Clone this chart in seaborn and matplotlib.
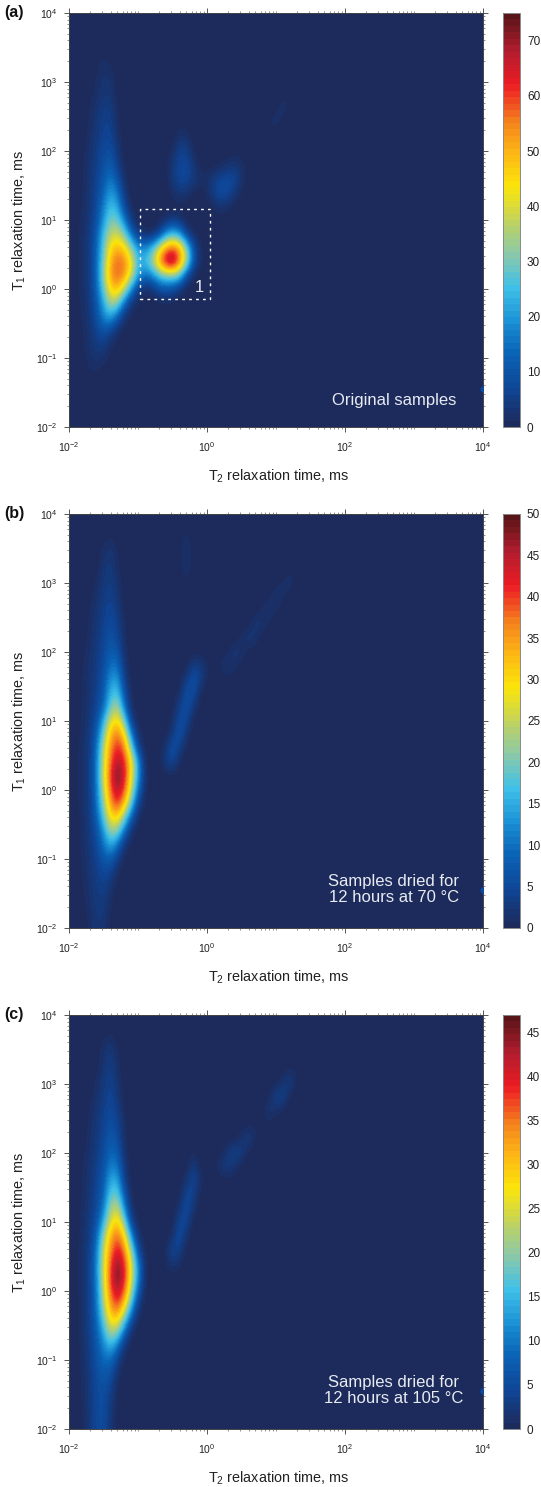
import numpy as np
import matplotlib
matplotlib.use("Agg")
import matplotlib.pyplot as plt
from matplotlib.colors import ListedColormap
from matplotlib.ticker import FixedLocator, NullFormatter
from matplotlib.patches import Rectangle
import seaborn as sns

sns.set_theme(style="ticks")
plt.rcParams.update({
    "font.family": ["Liberation Sans", "DejaVu Sans"],
    "mathtext.default": "regular",
    "axes.linewidth": 0.7,
    "axes.edgecolor": "#444444",
})

# log10 of the first/last grid node, 0.1 decade in T2 and 0.2 decade in T1
T2_FIRST, T2_LAST, T2_STEP = -2.0, 1.6, 0.1
T1_FIRST, T1_LAST, T1_STEP = 4.0, -2.0, 0.2

AMP_A = [
    [],
    [],
    [],
    [0,0,0,0,.3,1,.5]+[0]*8+[.5,1],
    [0,0,0,0,.8,2,1.5]+[0]*8+[.5,1.5],
    [0,0,0,0,1.5,3,3,.3]+[0]*8+[.3]+[0]*15+[.5],
    [0,0,0,.5,2,3.5,3.5,.5]+[0]*8+[.3]+[0]*14+[.5,2],
    [0,0,0,1,3,5,5,1]+[0]*22+[1,2.5],
    [0,0,0,1.5,3.5,6,6,1.5]+[0]*8+[.5]+[0]*12+[1.5,2],
    [0,0,0,2,4,6.5,7,2.5]+[0]*8+[2.5,2.5]+[0]*10+[1.5],
    [0,0,.5,2.5,5,8,9,4]+[0]*7+[1.5,6,6,1],
    [0,0,.8,3,5.5,9,12,6,.5]+[0]*6+[4,7,7.5,4,.3]+[0]*2+[.5,2,3.5,2],
    [0,0,1,3,6,11,16,10,2]+[0]*6+[4,7.5,7.5,5,2,2,5,7,8.5,7.5,3],
    [0,0,1,3.5,7,13,21,16,4]+[0]*6+[1.5,4,3,.5,0,1.5,6,9,8,4,.5],
    [0,0,1.2,3.5,8,17,25,22,8,1]+[0]*11+[1,3,1.5],
    [0,.3,1.5,4,9,20,30,29,17,4,.5,0,0,0,2,4,3],
    [0,.5,2,4.5,12,25,36,39,30,15,4,1,1,5,18,24,20,6,.8],
    [0,.5,2,5,13,28,45,50,46,32,20,18,24,38,52,58,52,32,10,1.5],
    [0,.5,2,5,14,30,50,58,55,45,24,25,34,52,70,75,58,38,12,1.5],
    [0,.5,2,5,14,33,52,58,54,40,22,15,18,26,30,32,28,9,1],
    [0,.5,2,4.5,13,28,46,50,38,20,5,1,2,8,10,8,3],
    [0,.3,1.5,4,11,22,35,32,15,3,.5],
    [0,0,1.5,3.5,9,18,22,13,3,.5],
    [0,0,1,3,6.5,10,7,2,.2],
    [0,0,.8,2.5,5,5,2,.2],
    [0,0,.5,2,3,2,.3],
    [0,0,0,1,1,.3],
    [0,0,0,.2],
    [],
    [],
    [],
]
AMP_B = [
    [],
    [0]*17+[.8],
    [0,0,0,0,0,.5,1.2,.3]+[0]*9+[1.5],
    [0,0,0,0,0,1.5,2.5,.8]+[0]*9+[2.5],
    [0,0,0,0,.3,2,3,1]+[0]*9+[1.8]+[0]*15+[1.2],
    [0,0,0,0,1,2.5,3.5,1.8]+[0]*9+[.3]+[0]*13+[1.2,1.8],
    [0,0,0,.3,1.5,3,4,2.2,.2]+[0]*21+[2.5,.8],
    [0,0,0,.8,2,3.5,5,3,.5]+[0]*19+[1,2.8,.5],
    [0,0,0,1,2.3,4,5.5,4,.8]+[0]*18+[2.5,2],
    [0,0,0,1.2,2.5,4.5,6.5,5,1]+[0]*16+[1,2.8,1.5],
    [0,0,.5,1.5,3,5,8,7,1.5]+[0]*14+[.5,2.5,2],
    [0,0,.6,1.8,3.3,5.5,10,10,2.5]+[0]*9+[3.5,3,1,.5,1,2.5,1],
    [0,0,.8,2,3.5,6.5,13,14,4]+[0]*8+[3,7,4,.3],
    [0,0,.8,2,4,7.5,16,18,7,.5]+[0]*6+[1,6,6,.5],
    [0,0,1,2.2,4.5,9,19,24,11,1]+[0]*6+[3.5,7,2.5],
    [0,0,1,2.5,6,15,27,31,21,4,.3]+[0]*4+[1,6,5],
    [0,0,1.3,3,8,20,33,38,31,12,1.5]+[0]*4+[3,7,2],
    [0,.3,1.5,3,10,24,36,42,38,22,5,.3]+[0]*2+[2,7,3.5],
    [0,.3,1.5,3.2,11,25,38,46,42,30,14,.8]+[0]*2+[3,5,.5],
    [0,.3,1.5,3.2,11,26,40,50,43,29,14,1.5],
    [0,.3,1.5,3.2,10.5,24,38,46,40,26,10,.8],
    [0,.3,1.5,3,10,21,35,41,33,19,4,.3],
    [0,0,1.3,3,8,18,29,31,21,8,1],
    [0,0,1.2,2.8,6,13,22,21,10,1.5],
    [0,0,1.2,2.5,5,10,15,10,2,.2],
    [0,0,1,2.2,4,7,8,3.5,.3],
    [0,0,.8,2,3.5,5,4,1],
    [0,0,.6,1.8,3,4,2,.2],
    [0,0,.5,1.5,3,3,1],
    [0,0,0,1.2,2.5,2.5,.5],
    [0,0,0,1,2.5,2,.3],
]
AMP_C = [
    [],
    [0]*6+[.3],
    [0,0,0,0,0,1,1.5,.3],
    [0,0,0,0,0,1.5,3,1],
    [0,0,0,0,.3,2,3.5,1.2]+[0]*24+[.5,.8],
    [0,0,0,0,1,2.5,4,2]+[0]*23+[2,3.5],
    [0,0,0,.3,1.5,3,4.5,2.5,.2]+[0]*20+[.5,4,4],
    [0,0,0,.8,2,3.5,5,3.5,.5]+[0]*20+[2.5,1],
    [0,0,0,1,2.3,4,6,4.5,.8]+[0]*18+[.8,.8],
    [0,0,0,1.2,2.6,4.5,7,5.5,1]+[0]*16+[1.5,3.5,.5],
    [0,0,.5,1.5,3,5,8.5,7.5,1.5]+[0]*9+[.5]+[0]*4+[2,4.5,3],
    [0,0,.6,1.8,3.5,6,10.5,10,2.5]+[0]*9+[3,.5,0,.3,2,3.5,1.5],
    [0,0,.8,2,4,7,14,14,4]+[0]*8+[1.5,5,1.5],
    [0,0,.8,2.2,4.5,8,17,18,7,.5]+[0]*7+[4.5,4],
    [0,0,1,2.5,5,10,21,24,12,1.2]+[0]*6+[1.5,5.5,2],
    [0,0,1.2,2.8,6,14,25,30,20,4,.3]+[0]*5+[4.5,4.5],
    [0,0,1.3,3,8,20,31,36,29,12,1.5]+[0]*4+[1,6,1.5],
    [0,.3,1.5,3.5,10,23,34,40,35,21,5,.3]+[0]*2+[.5,5,3.5],
    [0,.3,1.5,3.8,11,24,36,45,39,26,11,.8]+[0]*2+[.5,2.5,1],
    [0,.3,1.5,3.8,11,24,38,47,40,26,12,1],
    [0,.3,1.5,3.8,10,23,36,43,37,23,8,.5],
    [0,0,1.5,3.8,10,21,33,38,30,16,3],
    [0,0,1.5,3.8,8.5,18,29,30,20,7,.5],
    [0,0,1.5,3.5,7.5,14,22,20,9,1],
    [0,0,1.3,3.2,6.5,11,15,10,2],
    [0,0,1.2,3,6,8.5,9,4,.3],
    [0,0,1,2.8,5.5,7,6,1.5],
    [0,0,.8,2.6,5,6,4,.5],
    [0,0,.8,2.5,5,5.5,3,.2],
    [0,0,.6,2.4,5,5.5,2.5],
    [0,0,.5,2.3,5,5.5,2.2],
]

VMAX = [75, 50, 47]
CBAR_TICKS = [list(range(0, 71, 10)), list(range(0, 51, 5)), list(range(0, 46, 5))]
PANEL_LABELS = ["(a)", "(b)", "(c)"]
NOTES = ["Original samples", "Samples dried for\n12 hours at 70 °C", "Samples dried for\n12 hours at 105 °C"]
SPOT_T1 = [0.035, 0.036, 0.036]

X_MAJOR = [1e-2, 1e0, 1e2, 1e4]
Y_MAJOR = [1e-2, 1e-1, 1e0, 1e1, 1e2, 1e3, 1e4]
BOX_T2 = [0.107, 1.12]
BOX_T1 = [0.716, 14.5]

# colour stops taken from the colour bars
STOPS = ["#1c2b5b", "#0f4494", "#0a62b5", "#1a90d5", "#3ec0e8", "#8cc9a8", "#c3d35a",
         "#fbe50a", "#fcb514", "#f47a1f", "#ed1c24", "#b01c2e", "#5a1518"]
CMAP = ListedColormap(sns.blend_palette(STOPS, n_colors=64))

W, H = 541, 1487
AX_TOPS = [13, 514, 1015]
AX_SIDE = 414


def px_axes(fig, left, top, width, height):
    return fig.add_axes([left / W, 1 - (top + height) / H, width / W, height / H])


def fill_rows(rows):
    n = int(round((T2_LAST - T2_FIRST) / T2_STEP)) + 1
    return np.array([list(r) + [0] * (n - len(r)) for r in rows], dtype=float)


def decade_label(v):
    return f"10$^{{{int(round(np.log10(v)))}}}$".replace("-", "−")


def minor_ticks(major):
    vals = [s * 10.0 ** e for e in range(-2, 4) for s in range(2, 11)]
    return np.log10([v for v in vals if not any(np.isclose(v, m) for m in major)])


def draw_panel(fig, i, rows):
    top = AX_TOPS[i]
    ax = px_axes(fig, 69, top, AX_SIDE, AX_SIDE)
    cax = px_axes(fig, 503, top, 17, AX_SIDE)

    ax.set_facecolor(CMAP(0))
    ax.grid(False)
    # axes run in log10 units so the image can be drawn on regular nodes
    extent = (T2_FIRST - T2_STEP / 2, T2_LAST + T2_STEP / 2,
              T1_LAST - T1_STEP / 2, T1_FIRST + T1_STEP / 2)
    im = ax.imshow(fill_rows(rows), extent=extent, origin="upper", aspect="auto", cmap=CMAP,
                   vmin=0, vmax=VMAX[i], interpolation="bicubic", interpolation_stage="data")
    ax.scatter([4], np.log10([SPOT_T1[i]]), s=20, color="#0b4a9c", linewidths=0, zorder=3)

    ax.set_xlim(-2, 4)
    ax.set_ylim(-2, 4)
    ax.xaxis.set_major_locator(FixedLocator(np.log10(X_MAJOR)))
    ax.xaxis.set_minor_locator(FixedLocator(minor_ticks(X_MAJOR)))
    ax.yaxis.set_major_locator(FixedLocator(np.log10(Y_MAJOR)))
    ax.yaxis.set_minor_locator(FixedLocator(minor_ticks(Y_MAJOR)))
    ax.set_xticklabels([decade_label(v) for v in X_MAJOR])
    ax.set_yticklabels([decade_label(v) for v in Y_MAJOR])
    ax.xaxis.set_minor_formatter(NullFormatter())
    ax.yaxis.set_minor_formatter(NullFormatter())
    ax.tick_params(which="major", direction="out", length=3.5, width=0.7, color="#555555",
                   labelsize=7.5, labelcolor="#222222", top=True, right=True, pad=5)
    ax.tick_params(which="minor", direction="out", length=1.5, width=0.5, color="#666666",
                   top=True, right=True)
    ax.tick_params(axis="x", which="major", pad=6)

    ax.set_xlabel("T$_2$ relaxation time, ms", fontsize=10.4, color="#222222")
    ax.set_ylabel("T$_1$ relaxation time, ms", fontsize=10.4, color="#222222")
    ax.xaxis.set_label_coords(0.507, -0.097)
    ax.yaxis.set_label_coords(-0.1, 0.5)
    fig.text(4 / W, 1 - top / H, PANEL_LABELS[i], fontsize=11.5, fontweight="bold",
             color="#111111", va="center", ha="left")
    ax.text(0.785, 0.065 if i == 0 else 0.093, NOTES[i], transform=ax.transAxes, color="#e8ebf2",
            fontsize=12, ha="center", va="center", linespacing=1.05)

    if i == 0:
        ax.add_patch(Rectangle(np.log10([BOX_T2[0], BOX_T1[0]]),
                               np.log10(BOX_T2[1] / BOX_T2[0]), np.log10(BOX_T1[1] / BOX_T1[0]),
                               fill=False, ec="white", lw=1, ls=(0, (2, 3))))
        ax.text(-0.115, 0.02, "1", color="#e8ebf2", fontsize=12, ha="center", va="center")

    cb = fig.colorbar(im, cax=cax)
    cb.set_ticks(CBAR_TICKS[i])
    cb.outline.set_edgecolor("#888888")
    cb.outline.set_linewidth(0.7)
    cb.ax.tick_params(length=2, width=0.5, color="#666666", direction="in", labelsize=8.5,
                      labelcolor="#222222", pad=5)
    sns.despine(ax=ax, top=False, right=False)


fig = plt.figure(figsize=(W / 100, H / 100), dpi=100)
for i, rows in enumerate([AMP_A, AMP_B, AMP_C]):
    draw_panel(fig, i, rows)

fig.savefig("out.png", dpi=100)
